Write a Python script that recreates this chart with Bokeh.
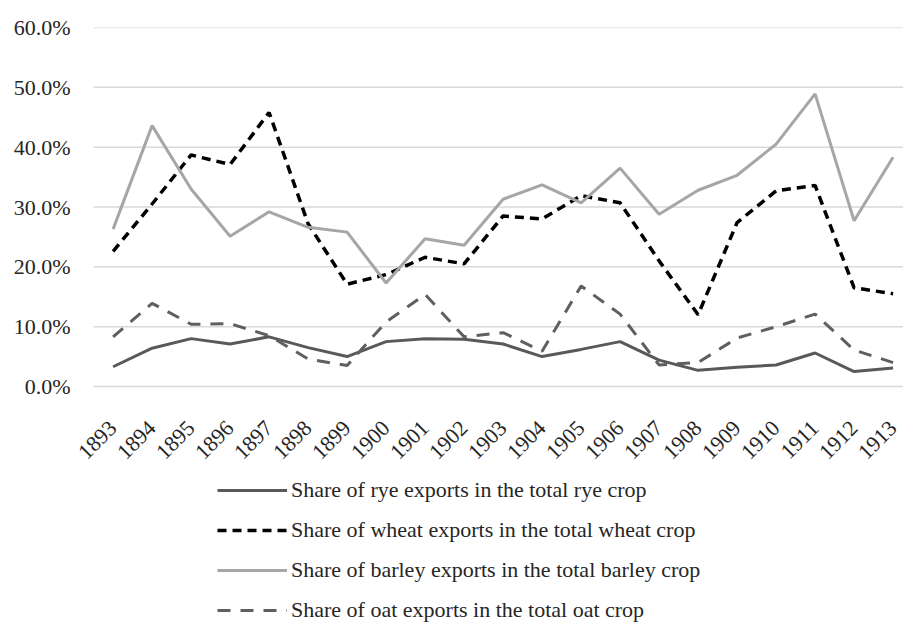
from bokeh.plotting import figure
from bokeh.models import (ColumnDataSource, Range1d, FixedTicker, PrintfTickFormatter,
                          Legend, LegendItem)
from bokeh.embed import file_html
from bokeh.resources import INLINE
import math

years = list(range(1893, 1914))
rye = [3.3, 6.4, 8.0, 7.1, 8.3, 6.5, 5.0, 7.5, 8.0, 7.9, 7.1, 5.0, 6.2, 7.5, 4.4, 2.7, 3.2, 3.6, 5.6, 2.5, 3.1]
wheat = [22.6, 30.5, 38.7, 37.1, 45.8, 27.2, 17.1, 18.7, 21.6, 20.5, 28.5, 28.0, 31.9, 30.7, 21.0, 12.0, 27.4, 32.7, 33.6, 16.5, 15.5]
barley = [26.3, 43.6, 33.0, 25.1, 29.2, 26.6, 25.8, 17.3, 24.7, 23.6, 31.3, 33.7, 30.7, 36.5, 28.8, 32.8, 35.3, 40.5, 48.9, 27.7, 38.3]
oat = [8.3, 13.9, 10.4, 10.5, 8.5, 4.6, 3.5, 10.8, 15.4, 8.3, 9.0, 5.9, 16.8, 12.1, 3.6, 4.0, 8.1, 10.0, 12.1, 6.1, 4.0]
y_ticks = [0, 10, 20, 30, 40, 50, 60]
labels = ["Share of rye exports in the total rye crop",
          "Share of wheat exports in the total wheat crop",
          "Share of barley exports in the total barley crop",
          "Share of oat exports in the total oat crop"]

src = ColumnDataSource(dict(year=years, rye=rye, wheat=wheat, barley=barley, oat=oat))

FONT = "Liberation Serif"
TXT = "#262626"

X0, X1 = 1891.959, 1913.267
p = figure(width=903, height=623, output_backend="svg", toolbar_location=None,
           x_range=Range1d(X0, X1), y_range=Range1d(-39.61, 60),
           min_border_left=72, min_border_right=0, min_border_top=27, min_border_bottom=0)
p.outline_line_color = None
p.background_fill_color = "white"
p.border_fill_color = "white"

# horizontal gridlines (plot-area width), one per y tick
grid_src = ColumnDataSource(dict(y=y_ticks, x0=[years[0] - 0.5] * len(y_ticks), x1=[X1] * len(y_ticks)))
p.segment(x0="x0", x1="x1", y0="y", y1="y", source=grid_src, line_color="#D9D9D9", line_width=1.5)

r1 = p.line("year", "rye", source=src, line_color="#595959", line_width=3)
r2 = p.line("year", "wheat", source=src, line_color="#000000", line_width=3.5, line_dash="9 6")
r3 = p.line("year", "barley", source=src, line_color="#A6A6A6", line_width=3)
r4 = p.line("year", "oat", source=src, line_color="#5f5f5f", line_width=3, line_dash="13 10")

p.xgrid.grid_line_color = None
p.ygrid.grid_line_color = None
p.yaxis.ticker = FixedTicker(ticks=y_ticks)
p.yaxis.formatter = PrintfTickFormatter(format="%.1f%%")
p.xaxis.ticker = FixedTicker(ticks=years)
p.xaxis.major_label_orientation = math.pi / 4
p.xaxis.fixed_location = 0

for ax in (p.xaxis[0], p.yaxis[0]):
    ax.axis_line_color = None
    ax.major_tick_line_color = None
    ax.minor_tick_line_color = None
    ax.major_tick_out = 0
    ax.major_tick_in = 0
    ax.major_label_text_font = FONT
    ax.major_label_text_font_size = "22px"
    ax.major_label_text_color = TXT
p.yaxis.major_label_standoff = 2
p.xaxis.major_label_standoff = 38

legend = Legend(items=[LegendItem(label=labels[0], renderers=[r1]),
                       LegendItem(label=labels[1], renderers=[r2]),
                       LegendItem(label=labels[2], renderers=[r3]),
                       LegendItem(label=labels[3], renderers=[r4])],
                location=(145, 0), orientation="vertical",
                glyph_width=70, glyph_height=26, label_height=26, spacing=14,
                label_standoff=4, padding=0, margin=0,
                border_line_color=None, background_fill_alpha=0,
                label_text_font=FONT, label_text_font_size="22px", label_text_color=TXT)
p.add_layout(legend, "center")

open("out.html", "w").write(file_html(p, INLINE))
